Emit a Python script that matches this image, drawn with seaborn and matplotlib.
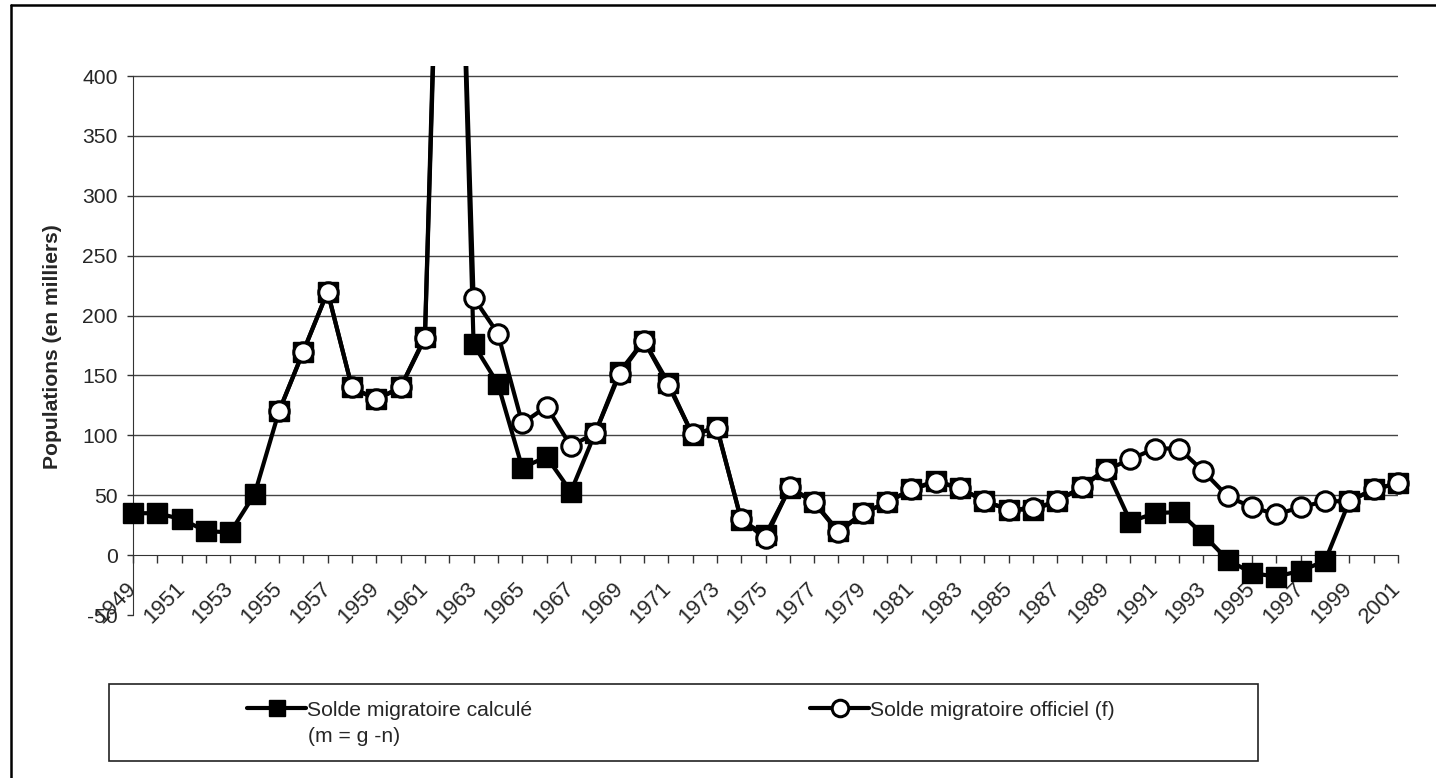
import numpy as np
import pandas as pd
import seaborn as sns
import matplotlib.pyplot as plt
from matplotlib.lines import Line2D
from matplotlib.patches import Rectangle
from matplotlib.transforms import Bbox, TransformedBbox

# %%
# Données (en milliers)
years = list(range(1949, 2002))
solde_calcule = [35, 35, 30, 20, 19, 51, 120, 170, 220, 140,
                 130, 140, 182, 890, 176, 143, 73, 82, 53, 102,
                 153, 179, 144, 100, 107, 29, 17, 56, 44, 20,
                 35, 44, 55, 62, 56, 45, 38, 38, 45, 57,
                 72, 28, 35, 36, 17, -4, -15, -18, -13, -5,
                 45, 55, 60]
solde_officiel = [np.nan, np.nan, np.nan, np.nan, np.nan, np.nan, 120, 170, 220, 140,
                  130, 140, 181, 860, 215, 185, 110, 124, 91, 102,
                  151, 179, 142, 101, 106, 30, 14, 57, 44, 19,
                  35, 44, 55, 61, 56, 45, 38, 39, 45, 57,
                  71, 80, 89, 89, 70, 49, 40, 34, 40, 45,
                  45, 55, 60]
y_ticks = [-50, 0, 50, 100, 150, 200, 250, 300, 350, 400]
x_labels = [str(y) if (y - 1949) % 2 == 0 else '' for y in years]

df = pd.DataFrame({'Annee': years, 'calcule': solde_calcule, 'officiel': solde_officiel})

# %%
sns.set_style('white')
plt.rcParams['font.family'] = ['Liberation Sans', 'DejaVu Sans']
FS = 15.2

fig = plt.figure(figsize=(14.36, 7.78), dpi=100)
ax = fig.add_axes([133 / 1436, 0.2095, 1265 / 1436, 0.7051])

sns.lineplot(data=df, x='Annee', y='calcule', ax=ax, color='black', lw=3,
             marker='s', markersize=14, mfc='black', mec='black', mew=1, zorder=3)
sns.lineplot(data=df.dropna(), x='Annee', y='officiel', ax=ax, color='black', lw=3,
             marker='o', markersize=14, mfc='white', mec='black', mew=2.2, zorder=4)

ax.set_xlim(1949, 2001)
ax.set_ylim(-50, 408)

# on coupe seulement en haut, les marqueurs du bord restent entiers
clip = TransformedBbox(Bbox([[1940, -120], [2010, 408]]), ax.transData)
for ln in ax.lines:
    ln.set_clip_box(clip)

# position des axes avant les graduations (set_position remet les ticks à zéro)
for s in ['top', 'right']:
    ax.spines[s].set_visible(False)
ax.spines['bottom'].set_position(('data', 0))
ax.spines['bottom'].set_color('#333333')
ax.spines['left'].set_color('#333333')
ax.spines['left'].set_bounds(-50, 400)

ax.set_yticks(y_ticks)
ax.set_yticklabels([str(v) for v in y_ticks], fontsize=FS)
ax.set_xticks(years)
ax.set_xticklabels(x_labels, fontsize=15.8, rotation=45, ha='right', va='center',
                   rotation_mode='anchor')
ax.tick_params(axis='x', direction='out', length=6, width=1, color='#333333', pad=16, bottom=True)
ax.tick_params(axis='y', direction='out', length=4, width=1, color='#333333', pad=7, left=True)

ax.grid(axis='y', color='#444444', lw=1)
ax.grid(axis='x', visible=False)
for gl, v in zip(ax.yaxis.get_gridlines(), y_ticks):
    if v <= 0:
        gl.set_visible(False)

ax.set_xlabel('')
ax.set_ylabel('Populations (en milliers)', fontsize=FS, fontweight='bold')
ax.yaxis.set_label_coords(-0.056, 0.49)

# %%
# Légende
h1, h2 = ax.lines[0], ax.lines[1]
fig.patches.append(Rectangle((109 / 1436, 1 - 761 / 778), 1149 / 1436, 77 / 778,
                             transform=fig.transFigure, fill=False, ec='#222222', lw=1.2))
fig.legend(handles=[h1], labels=['Solde migratoire calculé'], loc='center left',
           bbox_to_anchor=(247 / 1436, 1 - 710 / 778), frameon=False, borderpad=0,
           borderaxespad=0, handlelength=2.8, handletextpad=0.05, fontsize=FS,
           markerscale=0.85)
fig.legend(handles=[h2], labels=['Solde migratoire officiel (f)'], loc='center left',
           bbox_to_anchor=(810 / 1436, 1 - 710 / 778), frameon=False, borderpad=0,
           borderaxespad=0, handlelength=2.8, handletextpad=0.05, fontsize=FS,
           markerscale=0.85)
fig.text(308 / 1436, 1 - 737 / 778, '(m = g -n)', fontsize=FS, va='center')

# cadre extérieur (gauche et haut)
fig.add_artist(Line2D([11 / 1436, 11 / 1436], [0, 1 - 5 / 778], transform=fig.transFigure,
                      color='black', lw=1.8))
fig.add_artist(Line2D([11 / 1436, 1], [1 - 5 / 778, 1 - 5 / 778], transform=fig.transFigure,
                      color='black', lw=1.8))

plt.savefig('out.png', dpi=100)
plt.close()
